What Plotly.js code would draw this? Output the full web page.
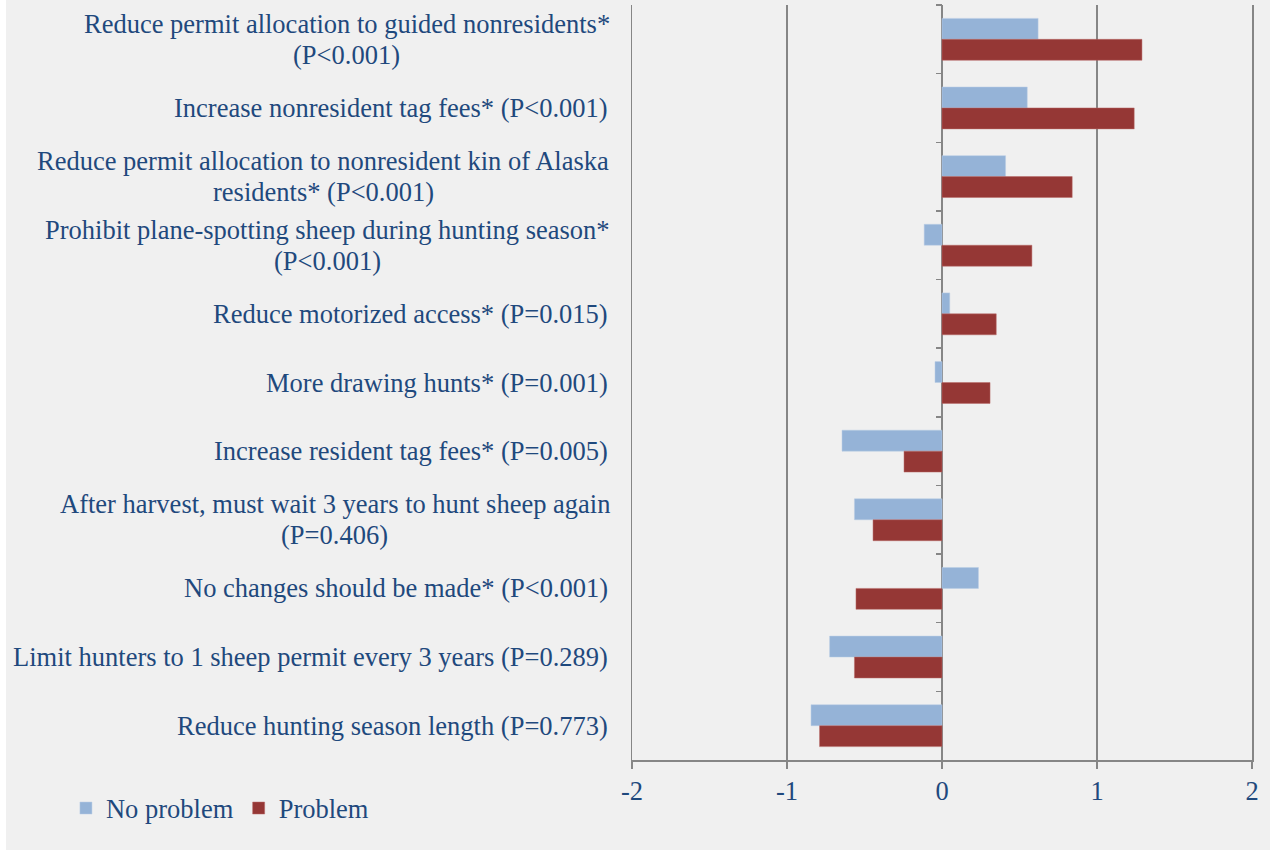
<!DOCTYPE html>
<html>
<head>
<meta charset="utf-8">
<script src="https://cdn.plot.ly/plotly-3.0.1.min.js"></script>
<style>
html,body{margin:0;padding:0;background:#ffffff;}
#chart{position:absolute;left:6px;top:0;width:1264px;height:850px;}
</style>
</head>
<body>
<div id="chart"></div>
<script>
var categories = [
  "Reduce permit allocation to guided nonresidents*<br>(P<0.001)",
  "Increase nonresident tag fees* (P<0.001)",
  "Reduce permit allocation to nonresident kin of Alaska<br>residents* (P<0.001)",
  "Prohibit plane-spotting sheep during hunting season*<br>(P<0.001)",
  "Reduce motorized access* (P=0.015)",
  "More drawing hunts* (P=0.001)",
  "Increase resident tag fees* (P=0.005)",
  "After harvest, must wait 3 years to hunt sheep again<br>(P=0.406)",
  "No changes should be made* (P<0.001)",
  "Limit hunters to 1 sheep permit every 3 years (P=0.289)",
  "Reduce hunting season length (P=0.773)"
];
var noProblem = [0.62, 0.55, 0.41, -0.115, 0.05, -0.045, -0.645, -0.565, 0.235, -0.725, -0.845];
var problem   = [1.29, 1.24, 0.84, 0.58, 0.35, 0.31, -0.245, -0.445, -0.555, -0.565, -0.79];
var xTicks = [-2, -1, 0, 1, 2];
var seriesNames = ["No problem", "Problem"];

var textColor = "#1f497d";
var gridColor = "#868686";
var font = "Liberation Serif, Times New Roman, serif";
var fs = 26.5;
var lineH = 31;
var ids = categories.map(function(c, i){ return "c" + i; });

var traces = [
  {type: "bar", orientation: "h", name: seriesNames[0], y: ids, x: noProblem,
   marker: {color: "#95b3d7", line: {color: "#b9cde5", width: 0.5}}},
  {type: "bar", orientation: "h", name: seriesNames[1], y: ids, x: problem,
   marker: {color: "#953735", line: {color: "#b86a68", width: 0.5}}},
  {type: "scatter", mode: "none", y: ids, x: noProblem, yaxis: "y2",
   showlegend: false, hoverinfo: "skip"}
];

// Category labels: right-aligned block, lines centred, Excel-like line spacing
var annotations = [];
categories.forEach(function(c, i){
  var lines = c.split("<br>");
  var n = lines.length;
  var maxLen = Math.max.apply(null, lines.map(function(l){ return l.length; }));
  lines.forEach(function(line, j){
    annotations.push({
      xref: "paper", yref: "y", x: 0, y: ids[i],
      xanchor: n > 1 ? "center" : "right", yanchor: "middle",
      xshift: n > 1 ? -22 : -22,
      yshift: ((n - 1) / 2 - j) * lineH,
      text: line, align: "center", showarrow: false,
      font: {family: font, size: fs, color: textColor},
      _block: n > 1, _lineIdx: j, _cat: i
    });
  });
});

var layout = {
  width: 1264, height: 850,
  paper_bgcolor: "#f0f0f0", plot_bgcolor: "#f0f0f0",
  margin: {l: 626, r: 18, t: 5, b: 90},
  barmode: "group", bargap: 0.39, bargroupgap: 0,
  showlegend: true,
  legend: {orientation: "h", x: -0.913, y: -0.064, xanchor: "left", yanchor: "middle",
           font: {family: font, size: fs, color: textColor}, bgcolor: "rgba(0,0,0,0)",
           traceorder: "normal", itemwidth: 30},
  xaxis: {range: [-2, 2], tickvals: xTicks, ticktext: xTicks.map(String),
          showgrid: true, gridcolor: gridColor, gridwidth: 1.5,
          zeroline: true, zerolinecolor: gridColor, zerolinewidth: 1.5,
          showline: true, linecolor: gridColor, linewidth: 1.5,
          ticks: "outside", ticklen: 7, tickcolor: gridColor, tickwidth: 1.5,
          tickfont: {family: font, size: fs, color: textColor}, fixedrange: true},
  yaxis: {type: "category", categoryarray: ids, autorange: "reversed",
          anchor: "free", position: 0.5, showline: false,
          ticks: "outside", tickson: "boundaries", ticklen: 6, tickcolor: gridColor, tickwidth: 1.5,
          showticklabels: false, showgrid: false, zeroline: false, fixedrange: true},
  yaxis2: {type: "category", categoryarray: ids, autorange: "reversed",
           overlaying: "y", anchor: "x", side: "left",
           showline: true, mirror: true, linecolor: gridColor, linewidth: 1.5,
           ticks: "", showticklabels: false, showgrid: false, zeroline: false, fixedrange: true},
  annotations: []
};

// Measure widths of multi-line blocks so their lines are centred on a common axis
var gd = document.getElementById("chart");
var meas = document.createElement("canvas").getContext("2d");
meas.font = fs + "px 'Liberation Serif'";
var blockWidth = {};
annotations.forEach(function(a){
  if (a._block) {
    var w = meas.measureText(a.text).width;
    blockWidth[a._cat] = Math.max(blockWidth[a._cat] || 0, w);
  }
});
annotations.forEach(function(a){
  if (a._block) a.xshift = -22 - blockWidth[a._cat] / 2;
  delete a._block; delete a._lineIdx; delete a._cat;
});
layout.annotations = annotations;

Plotly.newPlot(gd, traces, layout, {displayModeBar: false, staticPlot: true});
</script>
</body>
</html>
